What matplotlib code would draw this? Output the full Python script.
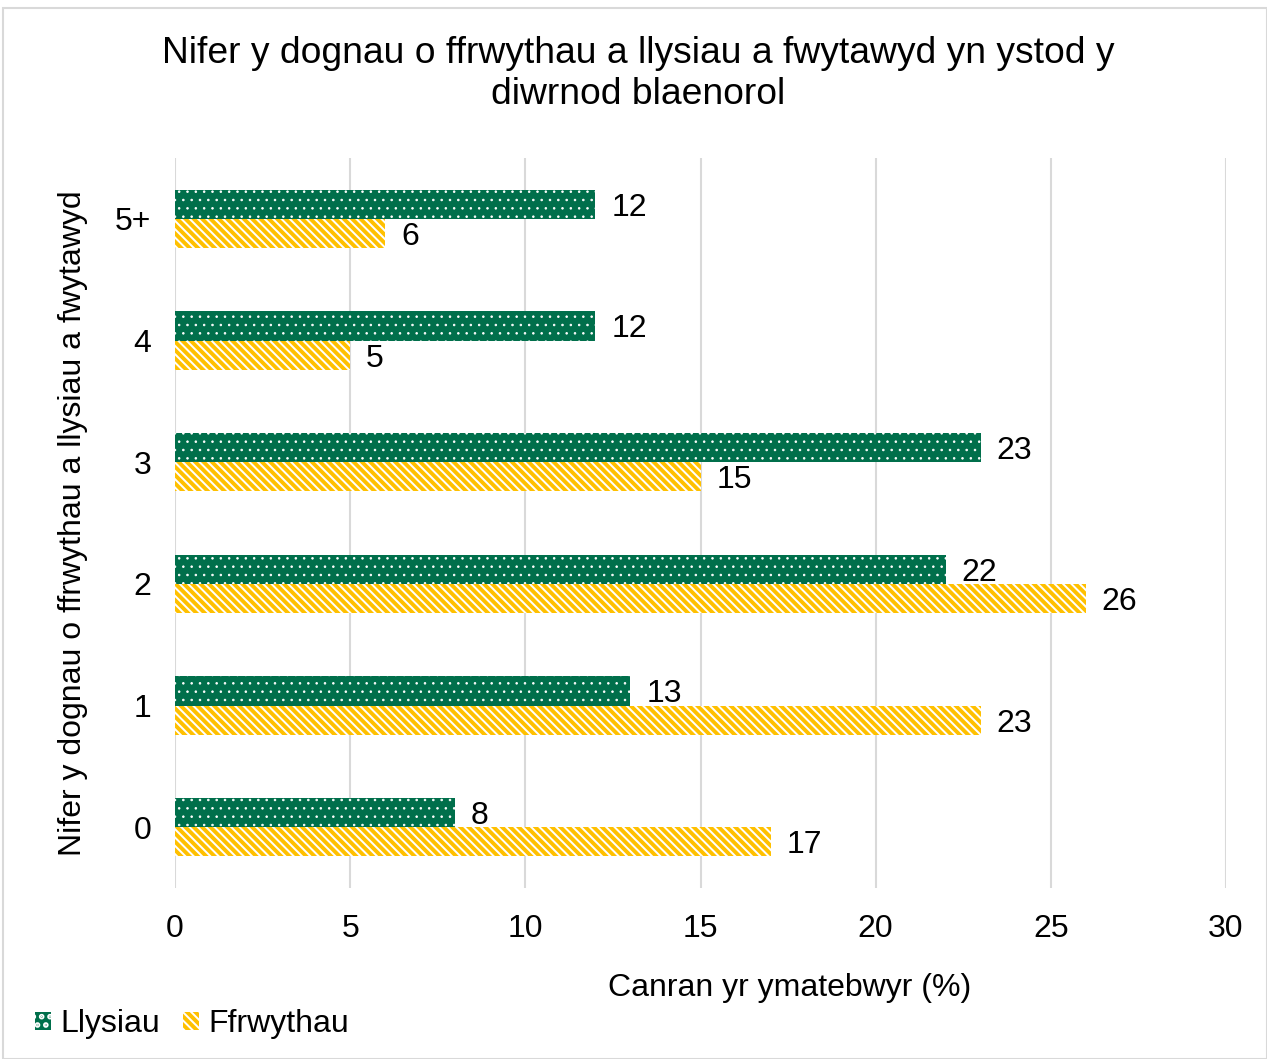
import matplotlib
matplotlib.use("Agg")
import matplotlib.pyplot as plt
from matplotlib.patches import Rectangle
import numpy as np

categories = ["0", "1", "2", "3", "4", "5+"]
llysiau = [8, 13, 22, 23, 12, 12]
ffrwythau = [17, 23, 26, 15, 5, 6]
series_names = ["Llysiau", "Ffrwythau"]

GREEN = "#006F4B"
YELLOW = "#FFC000"
FS = 23

plt.rcParams["font.family"] = ["Liberation Sans", "DejaVu Sans"]

fig = plt.figure(figsize=(12.67, 10.59), dpi=100)
fig.patches.append(Rectangle((3 / 1267, 0), 1 - 3 / 1267, 1 - 8 / 1059, transform=fig.transFigure,
                             fill=False, edgecolor="#D9D9D9", linewidth=1.5))
ax = fig.add_axes([175 / 1267, 1 - 888 / 1059, (1226 - 175) / 1267, (888 - 158) / 1059])

y = np.arange(len(categories))
h = 0.24
plt.rcParams["hatch.linewidth"] = 0.6
b1 = ax.barh(y + h / 2, llysiau, height=h, color=GREEN, edgecolor="white", linewidth=0,
             hatch="..", label=series_names[0])
plt.rcParams["hatch.linewidth"] = 2.8
b2 = ax.barh(y - h / 2, ffrwythau, height=h, color="white", edgecolor=YELLOW, linewidth=0,
             hatch="\\\\\\\\", label=series_names[1])

for bars, vals in ((b1, llysiau), (b2, ffrwythau)):
    for bar, v in zip(bars, vals):
        ax.text(v + 0.45, bar.get_y() + bar.get_height() / 2, f"{v}", va="center_baseline",
                ha="left", fontsize=FS)

ax.set_xlim(0, 30)
ax.set_ylim(-0.5, 5.5)
ax.set_xticks(range(0, 31, 5))
ax.set_yticks(y)
ax.set_yticklabels(categories)
ax.tick_params(axis="both", length=0, labelsize=FS)
ax.tick_params(axis="y", pad=17)
ax.tick_params(axis="x", pad=19)
for s in ax.spines.values():
    s.set_visible(False)
ax.xaxis.grid(True, color="#D9D9D9", linewidth=1.5)
ax.set_axisbelow(True)

ax.set_ylabel("Nifer y dognau o ffrwythau a llysiau a fwytawyd", fontsize=FS)
ax.yaxis.set_label_coords(-87 / (1226 - 175), 0.5)

fig.text(790 / 1267, 1 - 988 / 1059, "Canran yr ymatebwyr (%)", ha="center", va="center", fontsize=FS)
fig.text(638 / 1267, 1 - 74 / 1059,
         "Nifer y dognau o ffrwythau a llysiau a fwytawyd yn ystod y\ndiwrnod blaenorol",
         ha="center", va="center", fontsize=26.8, linespacing=1.25)

fig.legend(handles=[b1, b2], loc="center left", bbox_to_anchor=(35 / 1267, 1 - 1024 / 1059),
           frameon=False, fontsize=FS, handlelength=0.5, handleheight=0.5, handletextpad=0.3,
           columnspacing=0.7, ncol=2, borderaxespad=0, borderpad=0)

fig.savefig("out.png", dpi=100)
